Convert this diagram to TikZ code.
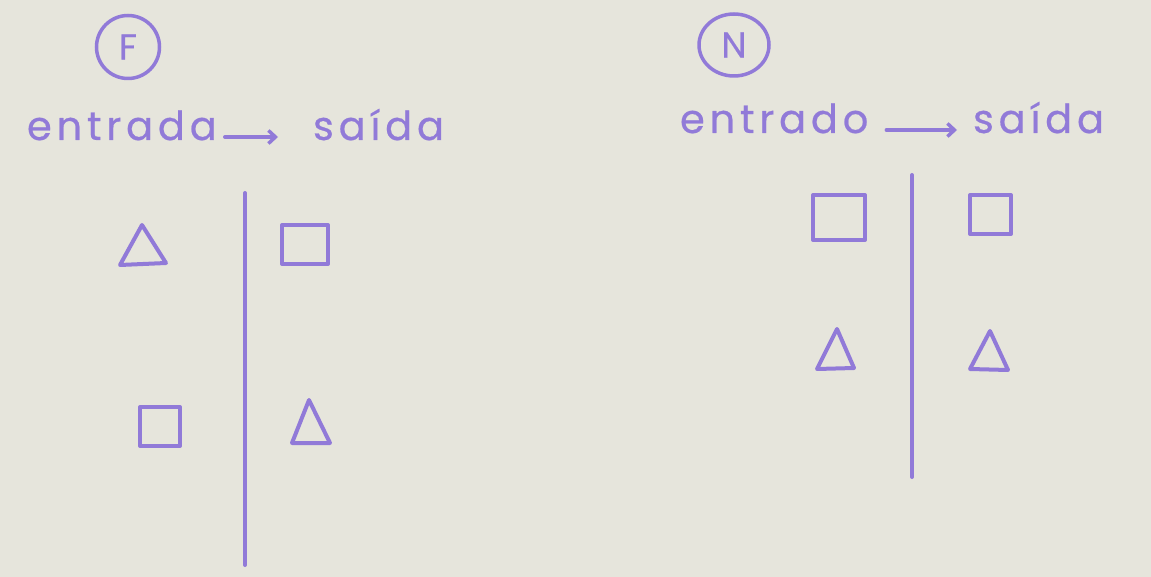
\documentclass[tikz,border=0pt]{standalone}
\usepackage{fontspec}
\setmainfont{Poppins}[FakeBold=0.5]
\newfontfamily\hand{Poppins}[LetterSpace=12,FakeBold=0.5]
\usetikzlibrary{arrows.meta,calc,shapes.geometric}
\definecolor{ink}{RGB}{145,122,216}
\definecolor{paper}{RGB}{230,229,220}
\begin{document}
\begin{tikzpicture}[x=1pt,y=-1pt,
  inkline/.style={draw=ink,line width=4pt,line cap=round,line join=round},
  word/.style={inner sep=0pt,outer sep=0pt,text=ink,font=\hand\fontsize{40}{44}\selectfont,anchor=base west},
  tag/.style={draw=ink,line width=3.5pt,text=ink,inner sep=0pt,font=\fontsize{36}{40}\selectfont},
  boxshape/.style={rectangle,draw=ink,line width=4pt,line join=round,inner sep=0pt,outer sep=0pt},
  arr/.style={inkline,line width=3.5pt,-{Straight Barb[length=7pt,width=13pt,line width=3.5pt]}}]
\fill[paper] (0,0) rectangle (1151,577);
\useasboundingbox (0,0) rectangle (1151,577);

% ---------- left panel (F)
\node[tag,circle,minimum size=63pt] (F) at (128,47) {F};
\node[word] (e1) at (27,140) {entrada};
\node[word] (s1) at (313,140) {saída};
\draw[arr] ([shift={(8,-3)}]e1.base east) -- ([shift={(-35,-3)}]s1.base west);

\coordinate (v1top) at (245,193);
\coordinate (v1bot) at (245,565);
\draw[inkline] (v1top) -- (v1bot);

\draw[inkline] (142,225) -- (120,265) -- (166,263) -- cycle;
\node[boxshape,minimum width=46pt,minimum height=39pt] (q1) at (305,244.5) {};
\node[boxshape,minimum width=40pt,minimum height=39pt] (q2) at (160,426.5) {};
\draw[inkline] (309,400) -- (292,443) -- (330,443) -- cycle;

% ---------- right panel (N)
\node[tag,ellipse,minimum width=70pt,minimum height=62pt] (N) at (734,45) {N};
\node[word] (e2) at (680,133) {entrado};
\node[word] (s2) at (973,133) {saída};
\draw[arr] ([shift={(18,-3)}]e2.base east) -- ([shift={(-16,-3)}]s2.base west);

\coordinate (v2top) at (912,175);
\coordinate (v2bot) at (912,477);
\draw[inkline] (v2top) -- (v2bot);

\node[boxshape,minimum width=52pt,minimum height=45pt] (q3) at (839,217.5) {};
\node[boxshape,minimum width=41pt,minimum height=39pt] (q4) at (990.5,214.5) {};
\draw[inkline] (837,329) -- (817,369) -- (854,368) -- cycle;
\draw[inkline] (990,331) -- (970,369) -- (1008,370) -- cycle;
\end{tikzpicture}
\end{document}
